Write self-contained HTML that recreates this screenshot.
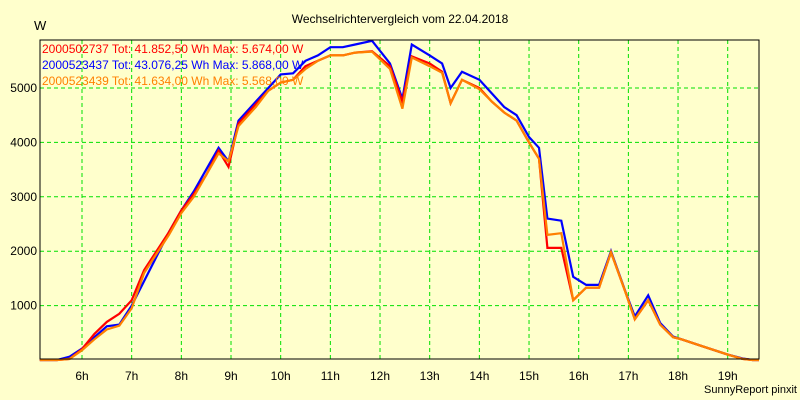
<!DOCTYPE html>
<html><head><meta charset="utf-8"><style>
body{margin:0;background:#ffffcc;}
svg{display:block;font-family:"Liberation Sans",sans-serif;}
</style></head><body>
<svg id="chart" width="800" height="400" viewBox="0 0 800 400">
<rect x="0" y="0" width="800" height="400" fill="#ffffcc"/>
<text x="400" y="23" font-size="12" text-anchor="middle">Wechselrichtervergleich vom 22.04.2018</text>
<text x="34" y="30" font-size="13">W</text>
<g id="grid"></g>
<g id="series"></g>
<rect x="40" y="40" width="719" height="319" fill="none" stroke="#000" stroke-width="1"/>
<g id="legend"></g>
<text x="797" y="393" font-size="11" text-anchor="end">SunnyReport pinxit</text>
</svg>
<script>
const hours=[5.15,5.5,5.75,6,6.25,6.5,6.75,7,7.25,7.5,7.75,8,8.25,8.5,8.75,8.95,9.15,9.5,9.75,10,10.25,10.5,10.75,11,11.25,11.5,11.84,12.2,12.45,12.64,13,13.25,13.42,13.65,14,14.25,14.5,14.75,15,15.2,15.37,15.65,15.89,16.15,16.41,16.65,16.94,17.13,17.4,17.64,17.9,18.07,18.5,19,19.3,19.5,19.63];
const blueValues=[0,0,60,210,420,620,650,1000,1450,1900,2350,2750,3100,3500,3900,3650,4400,4750,5000,5250,5270,5500,5600,5750,5750,5800,5868,5450,4800,5800,5600,5450,5000,5300,5150,4900,4650,4500,4100,3900,2600,2560,1530,1380,1380,2000,1260,800,1190,680,430,380,250,100,30,0,0];
const redValues=[0,0,20,200,480,700,850,1100,1650,2000,2350,2750,3050,3400,3850,3550,4350,4700,4950,5100,5150,5400,5500,5600,5600,5650,5674,5400,4750,5580,5450,5300,4720,5150,5000,4750,4550,4400,4000,3700,2060,2060,1100,1330,1330,1980,1250,750,1100,650,420,380,250,100,20,0,0];
const orangeValues=[0,0,20,180,380,560,630,950,1600,1950,2300,2700,3000,3400,3800,3650,4300,4650,4950,5100,5150,5350,5500,5600,5600,5650,5668,5350,4620,5560,5400,5280,4720,5150,4980,4750,4550,4400,4000,3700,2300,2330,1100,1330,1330,1980,1250,750,1100,650,420,380,250,100,20,0,0];
const xTicks=[6,7,8,9,10,11,12,13,14,15,16,17,18,19];
const yTicks=[1000,2000,3000,4000,5000];
const legendLabels=["2000502737 Tot: 41.852,50 Wh Max: 5.674,00 W","2000523437 Tot: 43.076,25 Wh Max: 5.868,00 W","2000523439 Tot: 41.634,00 Wh Max: 5.568,00 W"];
const NS="http://www.w3.org/2000/svg";
const xs=h=>82+(h-6)*49.67;
const ys=v=>360-v*0.0544;
const grid=document.getElementById('grid');
xTicks.forEach(h=>{
  const l=document.createElementNS(NS,'line');
  
  
  l.setAttribute('x1',xs(h));l.setAttribute('x2',xs(h));l.setAttribute('y1',40);l.setAttribute('y2',359);
  l.setAttribute('stroke','#00e000');l.setAttribute('stroke-dasharray','4,3');
  grid.appendChild(l);
  const t=document.createElementNS(NS,'text');
  
  
  t.setAttribute('x',xs(h));t.setAttribute('y',380);t.setAttribute('font-size','12');t.setAttribute('text-anchor','middle');
  t.textContent=h+'h';grid.appendChild(t);
});
yTicks.forEach(v=>{
  const l=document.createElementNS(NS,'line');
  
  
  l.setAttribute('x1',40);l.setAttribute('x2',759);l.setAttribute('y1',ys(v));l.setAttribute('y2',ys(v));
  l.setAttribute('stroke','#00e000');l.setAttribute('stroke-dasharray','4,3');
  grid.appendChild(l);
  const t=document.createElementNS(NS,'text');
  
  
  t.setAttribute('x',37);t.setAttribute('y',ys(v)+4);t.setAttribute('font-size','12');t.setAttribute('text-anchor','end');
  t.textContent=v;grid.appendChild(t);
});
const sg=document.getElementById('series');
[[blueValues,'#0000ff','series-2000523437'],[redValues,'#ff0000','series-2000502737'],[orangeValues,'#ff8000','series-2000523439']].forEach(([vals,col,name])=>{
  const p=document.createElementNS(NS,'polyline');
  
  
  p.setAttribute('points',vals.map((v,i)=>xs(hours[i]).toFixed(1)+','+ys(v).toFixed(1)).join(' '));
  p.setAttribute('fill','none');p.setAttribute('stroke',col);p.setAttribute('stroke-width','2.2');
  sg.appendChild(p);
});
const lg=document.getElementById('legend');
const lcols=['#ff0000','#0000ff','#ff8000'];
legendLabels.forEach((s,i)=>{
  const t=document.createElementNS(NS,'text');
  
  
  t.setAttribute('x',42);t.setAttribute('y',53+i*16);t.setAttribute('font-size','12');t.setAttribute('fill',lcols[i]);
  t.textContent=s;lg.appendChild(t);
});
</script>
</body></html>
